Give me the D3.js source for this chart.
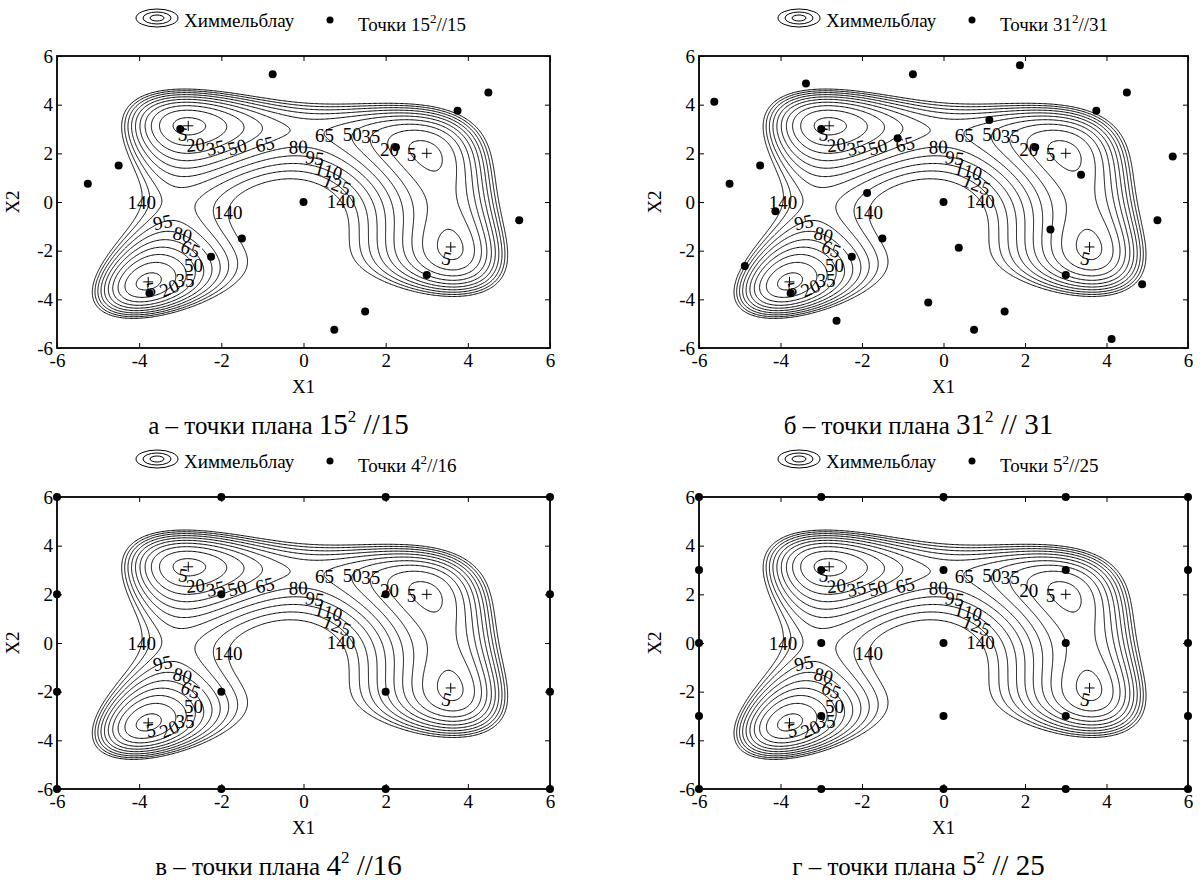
<!DOCTYPE html>
<html lang="ru">
<head>
<meta charset="utf-8">
<title>Химмельблау</title>
<script src="https://cdn.jsdelivr.net/npm/d3@7/dist/d3.min.js"></script>
<style>
  body { margin: 0; background: #fff; }
  svg { display: block; }
  svg text { font-family: "Liberation Serif", "Times New Roman", serif; fill: #000; }
</style>
</head>
<body>
<svg id="chart" width="1203" height="882"></svg>
<script>
// ---- data -------------------------------------------------------------

// contour levels of the Himmelblau surface
const levels = [5, 20, 35, 50, 65, 80, 95, 110, 125, 140];

// the four minima, marked with "+"
const minima = [[3, 2], [-2.805, 3.131], [-3.779, -3.283], [3.584, -1.848]];

const ticks = [-6, -4, -2, 0, 2, 4, 6];

// plan points, panel а (15)
const pointsA = [
  [-0.75, 5.25], [4.5, 4.5], [3.75, 3.75], [-3, 3], [2.25, 2.25],
  [-4.5, 1.5], [-5.25, 0.75], [0, 0], [5.25, -0.75], [-1.5, -1.5],
  [-2.25, -2.25], [3, -3], [-3.75, -3.75], [1.5, -4.5], [0.75, -5.25]
];

// plan points, panel б (31)
const pointsB = [
  [-5.625, 4.125], [-3.375, 4.875], [-0.75, 5.25], [1.875, 5.625], [4.5, 4.5],
  [3.75, 3.75], [1.125, 3.375], [-3, 3], [-1.125, 2.625], [2.25, 2.25],
  [5.625, 1.875], [-4.5, 1.5], [3.375, 1.125], [-5.25, 0.75], [-1.875, 0.375],
  [0, 0], [-4.125, -0.375], [5.25, -0.75], [2.625, -1.125], [-1.5, -1.5],
  [0.375, -1.875], [-2.25, -2.25], [-4.875, -2.625], [3, -3], [4.875, -3.375],
  [-3.75, -3.75], [-0.375, -4.125], [1.5, -4.5], [-2.625, -4.875], [0.75, -5.25],
  [4.125, -5.625]
];

// plan points, panel в (4x4)
const pointsC = [
  [-6, 6], [-2, 6], [2, 6], [6, 6],
  [-6, 2], [-2, 2], [2, 2], [6, 2],
  [-6, -2], [-2, -2], [2, -2], [6, -2],
  [-6, -6], [-2, -6], [2, -6], [6, -6]
];

// plan points, panel г (5x5)
const pointsD = [
  [-6, 6], [-3, 6], [0, 6], [3, 6], [6, 6],
  [-6, 3], [-3, 3], [0, 3], [3, 3], [6, 3],
  [-6, 0], [-3, 0], [0, 0], [3, 0], [6, 0],
  [-6, -3], [-3, -3], [0, -3], [3, -3], [6, -3],
  [-6, -6], [-3, -6], [0, -6], [3, -6], [6, -6]
];

// inline contour labels: [level, rough X1, rough X2]
const contourLabels = [
  [5, -2.99, 2.65], [20, -2.61, 2.28], [35, -2.1, 2.17], [50, -1.6, 2.24],
  [65, -0.9, 2.31], [80, -0.13, 2.15], [95, 0.24, 1.72], [110, 0.57, 1.22],
  [125, 0.76, 0.67], [140, 0.85, 0.0],
  [65, 0.55, 2.76], [50, 1.18, 2.76], [35, 1.62, 2.68], [20, 2.12, 2.17], [5, 2.61, 1.94],
  [5, 3.47, -2.34],
  [140, -3.97, 0.0], [140, -1.82, -0.45],
  [95, -3.39, -0.93], [80, -3.0, -1.42], [65, -2.8, -1.97], [50, -2.72, -2.61],
  [35, -2.89, -3.22], [20, -3.27, -3.53], [5, -3.75, -3.5]
];

const planPoints = [pointsA, pointsB, pointsC, pointsD];
const legendBase = ["15", "31", "4", "5"];
const legendTail = ["//15", "//31", "//16", "//25"];
const captionLetter = ["а", "б", "в", "г"];
const captionTail = [" //15", " // 31", " //16", " // 25"];

// ---- surface ------------------------------------------------------------

const himmelblau = (a, b) => (a * a + b - 11) ** 2 + (a + b * b - 7) ** 2;
function grad(a, b) {
  const p = a * a + b - 11, q = a + b * b - 7;
  return [4 * a * p + 2 * q, 2 * p + 4 * b * q];
}

const gMin = -6, gStep = 0.03, gN = Math.round(12 / gStep) + 1;
const grid = new Float64Array(gN * gN);
for (let j = 0; j < gN; j++) {
  for (let i = 0; i < gN; i++) {
    // negated, so each contour is the closed region f <= level
    grid[j * gN + i] = -himmelblau(gMin + i * gStep, gMin + j * gStep);
  }
}
const contours = d3.contours().size([gN, gN]).thresholds(levels.map(v => -v))(grid);

// pull each rough label spot onto its contour line
const labelSpots = contourLabels.map(([lv, a, b]) => {
  for (let k = 0; k < 10; k++) {
    const d = himmelblau(a, b) - lv;
    const [ga, gb] = grad(a, b);
    const g2 = ga * ga + gb * gb;
    if (g2 < 1e-9) break;
    a -= d * ga / g2;
    b -= d * gb / g2;
  }
  return {lv, a, b};
});

// ---- drawing -----------------------------------------------------------

const svg = d3.select("#chart");
const defs = svg.append("defs");

const frames = [
  {left: 57, right: 550, top: 56, bottom: 348},
  {left: 699, right: 1188, top: 56, bottom: 348},
  {left: 57, right: 550, top: 497, bottom: 789},
  {left: 699, right: 1188, top: 497, bottom: 789}
];

const labelFont = 19;

frames.forEach((f, pi) => {
  const x = d3.scaleLinear().domain([-6, 6]).range([f.left, f.right]);
  const y = d3.scaleLinear().domain([-6, 6]).range([f.bottom, f.top]);
  const kx = (f.right - f.left) / 12, ky = (f.bottom - f.top) / 12;
  const g = svg.append("g").attr("class", "panel");

  // label placement: softened tangent angle, steep ones kept level
  const spots = labelSpots.map(s => {
    const [ga, gb] = grad(s.a, s.b);
    let ang = Math.atan2(-ga * ky, -gb * kx) * 180 / Math.PI;
    if (ang > 90) ang -= 180;
    if (ang < -90) ang += 180;
    ang = Math.abs(ang) > 50 ? 0 : ang * 0.6;
    const txt = String(s.lv);
    return {lv: s.lv, sx: x(s.a), sy: y(s.b), ang, txt, w: txt.length * labelFont * 0.5 + 2, h: labelFont * 0.7};
  });

  // masks that break each contour where its own labels sit
  levels.forEach((lv, li) => {
    const m = defs.append("mask").attr("id", `m${pi}_${li}`)
      .attr("maskUnits", "userSpaceOnUse")
      .attr("x", 0).attr("y", 0).attr("width", 1203).attr("height", 882);
    m.append("rect").attr("width", 1203).attr("height", 882).attr("fill", "#fff");
    spots.filter(s => s.lv === lv).forEach(s => {
      m.append("rect")
        .attr("x", -s.w / 2).attr("y", -s.h / 2)
        .attr("width", s.w).attr("height", s.h)
        .attr("transform", `translate(${s.sx},${s.sy}) rotate(${s.ang})`)
        .attr("fill", "#000");
    });
  });

  const proj = d3.geoTransform({
    point(gx, gy) {
      this.stream.point(x(gMin + (gx - 0.5) * gStep), y(gMin + (gy - 0.5) * gStep));
    }
  });
  const path = d3.geoPath(proj);

  g.append("g").attr("class", "contours")
    .selectAll("path")
    .data(contours)
    .join("path")
    .attr("d", path)
    .attr("fill", "none")
    .attr("stroke", "#000")
    .attr("stroke-width", 1)
    .attr("mask", (d, i) => `url(#m${pi}_${i})`);

  g.append("g").attr("class", "clabels")
    .selectAll("text")
    .data(spots)
    .join("text")
    .attr("transform", s => `translate(${s.sx},${s.sy}) rotate(${s.ang})`)
    .attr("text-anchor", "middle")
    .attr("dy", "0.34em")
    .attr("font-size", labelFont)
    .text(s => s.txt);

  // axes, ticks pointing inward on all four sides
  const fmt = d => String(d);
  const styleAxis = sel => {
    sel.select(".domain").remove();
    sel.attr("font-family", null).attr("font-size", 19);
    sel.selectAll("line").attr("stroke", "#000");
  };
  g.append("g").attr("transform", `translate(0,${f.bottom})`)
    .call(d3.axisBottom(x).tickValues(ticks).tickSizeInner(-5).tickSizeOuter(0).tickPadding(6).tickFormat(fmt))
    .call(styleAxis);
  g.append("g").attr("transform", `translate(0,${f.top})`)
    .call(d3.axisTop(x).tickValues(ticks).tickSizeInner(-5).tickSizeOuter(0).tickFormat(""))
    .call(styleAxis);
  g.append("g").attr("transform", `translate(${f.left},0)`)
    .call(d3.axisLeft(y).tickValues(ticks).tickSizeInner(-5).tickSizeOuter(0).tickPadding(4).tickFormat(fmt))
    .call(styleAxis);
  g.append("g").attr("transform", `translate(${f.right},0)`)
    .call(d3.axisRight(y).tickValues(ticks).tickSizeInner(-5).tickSizeOuter(0).tickFormat(""))
    .call(styleAxis);

  g.append("rect")
    .attr("x", f.left).attr("y", f.top)
    .attr("width", f.right - f.left).attr("height", f.bottom - f.top)
    .attr("fill", "none").attr("stroke", "#000").attr("stroke-width", 1.8);

  g.append("text")
    .attr("x", (f.left + f.right) / 2).attr("y", f.bottom + 45)
    .attr("text-anchor", "middle").attr("font-size", 19)
    .text("X1");
  g.append("text")
    .attr("transform", `translate(${f.left - 38},${(f.top + f.bottom) / 2}) rotate(-90)`)
    .attr("text-anchor", "middle").attr("font-size", 19)
    .text("X2");

  // minima
  g.append("g").selectAll("path")
    .data(minima)
    .join("path")
    .attr("d", d => `M${x(d[0]) - 5},${y(d[1])}H${x(d[0]) + 5}M${x(d[0])},${y(d[1]) - 5}V${y(d[1]) + 5}`)
    .attr("stroke", "#000").attr("stroke-width", 1);

  // plan points
  g.append("g").selectAll("circle")
    .data(planPoints[pi])
    .join("circle")
    .attr("cx", d => x(d[0])).attr("cy", d => y(d[1]))
    .attr("r", 4).attr("fill", "#000");

  // legend
  const lg = g.append("g").attr("class", "legend");
  const ix = f.left + 100, iy = f.top - 38;
  [[21, 9], [14, 6], [7, 3]].forEach(([rx, ry]) => {
    lg.append("ellipse").attr("cx", ix).attr("cy", iy)
      .attr("rx", rx).attr("ry", ry)
      .attr("fill", "none").attr("stroke", "#000").attr("stroke-width", 1);
  });
  lg.append("text").attr("x", f.left + 127).attr("y", f.top - 29)
    .attr("font-size", 19).text("Химмельблау");
  lg.append("circle").attr("cx", f.left + 273).attr("cy", f.top - 36)
    .attr("r", 3.5).attr("fill", "#000");
  const lt = lg.append("text").attr("x", f.left + 301).attr("y", f.top - 25).attr("font-size", 19);
  lt.append("tspan").text("Точки " + legendBase[pi]);
  lt.append("tspan").attr("dy", -8).attr("font-size", 13).text("2");
  lt.append("tspan").attr("dy", 8).text(legendTail[pi]);

  // caption
  const cap = g.append("text")
    .attr("x", (f.left + f.right) / 2 - 25).attr("y", f.bottom + 86)
    .attr("text-anchor", "middle").attr("font-size", 25);
  cap.append("tspan").text(captionLetter[pi] + " – точки плана ");
  cap.append("tspan").attr("font-size", 29).text(legendBase[pi]);
  cap.append("tspan").attr("dy", -12).attr("font-size", 17).text("2");
  cap.append("tspan").attr("dy", 12).attr("font-size", 29).text(captionTail[pi]);
});
</script>
</body>
</html>
